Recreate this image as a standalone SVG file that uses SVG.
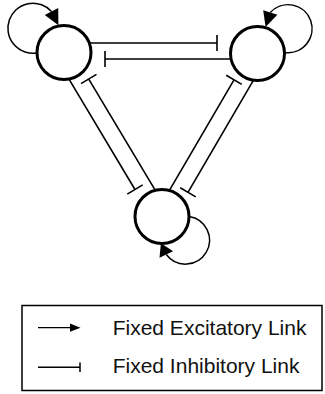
<svg xmlns="http://www.w3.org/2000/svg" width="325" height="394" viewBox="0 0 325 394">
<style>
.node{fill:none;stroke:#000;stroke-width:3}
.link{fill:none;stroke:#000;stroke-width:1.6;stroke-linecap:butt}
.loop{fill:none;stroke:#000;stroke-width:1.5}
.head{fill:#000;stroke:none}
.lbl{font-family:"Liberation Sans",Arial,Helvetica,sans-serif;font-size:21px;fill:#111}
</style>
<rect width="325" height="394" fill="#fff"/>
<g id="connectors">
<!-- top pair -->
<path class="link" d="M89,43 H217 M217,35 V51"/>
<path class="link" d="M231,59 H105 M105,51 V67"/>
<!-- left pair -->
<path class="link" d="M68.84,78.84 L134.98,189.53 M127.25,194.15 L142.71,184.91"/>
<path class="link" d="M155.17,190.16 L88.76,79.04 M81.03,83.66 L96.49,74.42"/>
<!-- right pair -->
<path class="link" d="M253.93,79.39 L187.98,192.29 M180.21,187.75 L195.75,196.83"/>
<path class="link" d="M169.57,190.1 L234,79.8 M226.23,75.26 L241.77,84.34"/>
<!-- self loops -->
<path class="loop" d="M37,52.9 A25,25 0 1 1 51.5,11.5"/>
<polygon class="head" points="58.2,8.1 44.8,14.9 58.4,25.2"/>
<path class="loop" d="M284.5,52.4 A24,24 0 1 0 270.3,12.5"/>
<polygon class="head" points="277.4,14.85 263.2,10.15 265.6,26.9"/>
<path class="loop" d="M189,216.4 A24,24 0 1 1 166.3,254.5"/>
<polygon class="head" points="173.1,251.2 159.5,257.8 160.9,243.2"/>
</g>
<g id="node-a"><circle class="node" cx="64" cy="52.5" r="27"/></g>
<g id="node-b"><circle class="node" cx="257.5" cy="53.5" r="27"/></g>
<g id="node-c"><circle class="node" cx="162" cy="216.5" r="27"/></g>
<g id="legend">
<rect x="22" y="305.5" width="300" height="85" fill="none" stroke="#000" stroke-width="1.5"/>
<line x1="38" y1="327.7" x2="72" y2="327.7" stroke="#000" stroke-width="1.2"/>
<polygon class="head" points="70,323.6 80.5,327.7 70,331.8"/>
<line x1="38" y1="367.3" x2="80" y2="367.3" stroke="#000" stroke-width="1.5"/>
<line x1="80" y1="362.5" x2="80" y2="372" stroke="#000" stroke-width="1.5"/>
<text class="lbl" x="112.7" y="335">Fixed Excitatory Link</text>
<text class="lbl" x="112.7" y="373.3">Fixed Inhibitory Link</text>
</g>
</svg>
